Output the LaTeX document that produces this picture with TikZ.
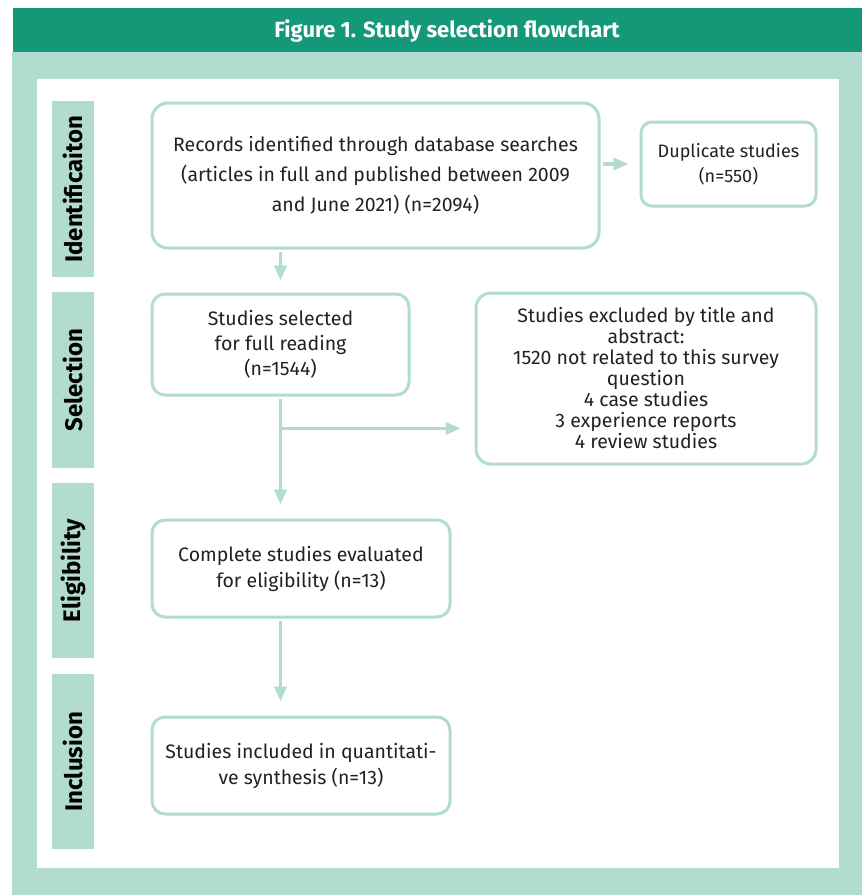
\documentclass[tikz,border=0pt]{standalone}
\usepackage{fontspec}
\setmainfont{Fira Sans}
\usetikzlibrary{arrows.meta,calc}
\definecolor{hdr}{RGB}{20,153,120}
\definecolor{teal}{RGB}{178,220,207}
\definecolor{txt}{RGB}{34,34,34}
\begin{document}
\begin{tikzpicture}[x=1pt,y=-1pt,
  box/.style={draw=teal,line width=3pt,rounded corners=13pt,align=center,text=txt,inner sep=0pt},
  lab/.style={fill=teal,minimum width=42pt,anchor=north west,inner sep=0pt},
  labtxt/.style={rotate=90,font=\fontsize{24}{26}\selectfont\bfseries,text=black,inner sep=0pt},
  arr/.style={draw=teal,line width=3.5pt,shorten <=2pt,-{Triangle[length=15pt,width=12pt]}},
  conn/.style={draw=teal,line width=3pt}]
\useasboundingbox (0,0) rectangle (862,895);
\fill[white] (0,0) rectangle (862,895);
\fill[teal] (12,52) rectangle (862,895);
\fill[hdr] (13,8) rectangle (862,52);
\node[text=white,font=\fontsize{22}{24}\selectfont\bfseries] (title) at (447,31) {Figure 1. Study selection flowchart};
\fill[white] (37,79) rectangle (839,868);
% side labels
\node[lab,minimum height=176pt] (l1) at (52,101) {};
\node[lab,minimum height=176pt] (l2) at (52,292) {};
\node[lab,minimum height=175pt] (l3) at (52,483) {};
\node[lab,minimum height=175pt] (l4) at (52,674) {};
\node[labtxt] (t1) at (l1.center) {Identificaiton};
\node[labtxt] (t2) at (l2.center) {Selection};
\node[labtxt] (t3) at (l3.center) {Eligibility};
\node[labtxt] (t4) at (l4.center) {Inclusion};
% boxes
\node[box,minimum width=447pt,minimum height=145pt,rounded corners=16pt,font=\fontsize{19.5}{30}\selectfont] (b1) at (375.5,175.5)
  {Records identified through database searches\\(articles in full and published between 2009\\and June 2021) (n=2094)};
\node[box,minimum width=175pt,minimum height=84pt,rounded corners=11pt,font=\fontsize{18}{25}\selectfont] (dup) at (728.5,164)
  {Duplicate studies\\(n=550)};
\node[box,minimum width=257pt,minimum height=101pt,font=\fontsize{19.5}{25}\selectfont] (b2) at (280.5,344.5)
  {Studies selected\\for full reading\\(n=1544)};
\node[box,minimum width=340pt,minimum height=171pt,rounded corners=15pt,font=\fontsize{19.5}{21}\selectfont] (ex) at (646,378.5)
  {Studies excluded by title and\\abstract:\\1520 not related to this survey\\question\\4 case studies\\3 experience reports\\4 review studies};
\node[box,minimum width=298pt,minimum height=97pt,font=\fontsize{19.5}{26}\selectfont] (b3) at (301,568.5)
  {Complete studies evaluated\\for eligibility (n=13)};
\node[box,minimum width=298pt,minimum height=97pt,font=\fontsize{19.5}{26}\selectfont] (b4) at (301,765.5)
  {Studies included in quantitati-\\ve synthesis (n=13)};
% connectors
\coordinate (br) at ($(b2.south)+(0,32)$);
\draw[arr,shorten >=11pt] (b1.east |- dup.west) -- (dup.west);
\draw[arr,shorten >=12pt] (b1.south -| b2.north) -- (b2.north);
\draw[arr,shorten >=14pt] (b2.south) -- (b3.north -| b2.south);
\draw[arr,shorten <=0pt,shorten >=14pt] (br) -- (br -| ex.west);
\draw[arr,shorten >=14pt] (b3.south -| b2.south) -- (b4.north -| b2.south);
\end{tikzpicture}
\end{document}
